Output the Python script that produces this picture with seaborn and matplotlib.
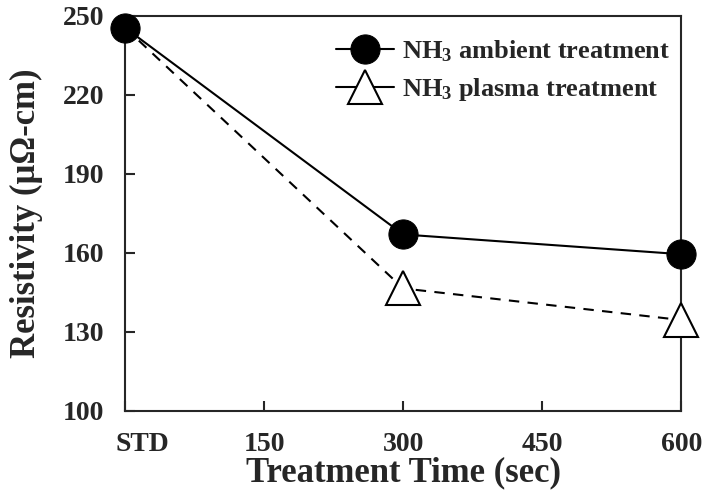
import pandas as pd
import seaborn as sns
import matplotlib as mpl
mpl.use('Agg')
import matplotlib.pyplot as plt
from matplotlib.transforms import ScaledTranslation

time = [0, 300, 600]
ambient = [245.5, 167.0, 159.5]
plasma = [245.5, 146.5, 134.5]
xticks = [0, 150, 300, 450, 600]
xticklabels = ['STD', '150', '300', '450', '600']
yticks = [100, 130, 160, 190, 220, 250]

df = pd.DataFrame({'time': time, 'ambient': ambient, 'plasma': plasma})

sns.set_style('ticks')
plt.rcParams['font.family'] = ['Liberation Serif', 'DejaVu Serif']
plt.rcParams['font.weight'] = 'bold'
plt.rcParams['mathtext.fontset'] = 'custom'
plt.rcParams['mathtext.rm'] = 'Liberation Serif:bold'
plt.rcParams['mathtext.it'] = 'Liberation Serif:bold'
plt.rcParams['mathtext.bf'] = 'Liberation Serif:bold'

fig = plt.figure(figsize=(7.03, 4.98), dpi=100)
ax = fig.add_axes([0.178, 0.175, 0.791, 0.793])

sns.lineplot(data=df, x='time', y='ambient', ax=ax, color='black', lw=1.5,
             marker='o', markersize=21, markerfacecolor='black',
             markeredgecolor='black', clip_on=False, zorder=4,
             label='NH$_3$ ambient treatment')
sns.lineplot(data=df, x='time', y='plasma', ax=ax, color='black', lw=1.5,
             linestyle=(0, (5, 4)), marker='^', markersize=25,
             markerfacecolor='white', markeredgecolor='black',
             markeredgewidth=1.5, markevery=[1, 2], clip_on=False, zorder=3,
             label='NH$_3$ plasma treatment')

ax.set_xlim(0, 600)
ax.set_ylim(100, 250)
ax.set_xticks(xticks)
ax.set_xticklabels(xticklabels)
ax.set_yticks(yticks)
ax.tick_params(direction='in', length=7, width=1.5, labelsize=20)
ax.tick_params(axis='x', pad=15)
ax.tick_params(axis='y', pad=15)
std = ax.get_xticklabels()[0]
std.set_transform(std.get_transform() + ScaledTranslation(0.17, 0, fig.dpi_scale_trans))
for s in ax.spines.values():
    s.set_linewidth(1.5)
ax.set_xlabel('Treatment Time (sec)', fontsize=25, fontweight='bold', labelpad=0)
ax.set_ylabel('Resistivity (\u03bc\u03a9-cm)', fontsize=25, fontweight='bold', labelpad=14)

leg = ax.legend(loc='upper right', bbox_to_anchor=(1, 0.97), frameon=False,
                fontsize=19, handlelength=2.2, handletextpad=0.3,
                labelspacing=0.45, borderaxespad=0)
for h in leg.legend_handles:
    h.set_linestyle('-')
    h.set_markevery([1])

plt.savefig('out.png', dpi=100)
